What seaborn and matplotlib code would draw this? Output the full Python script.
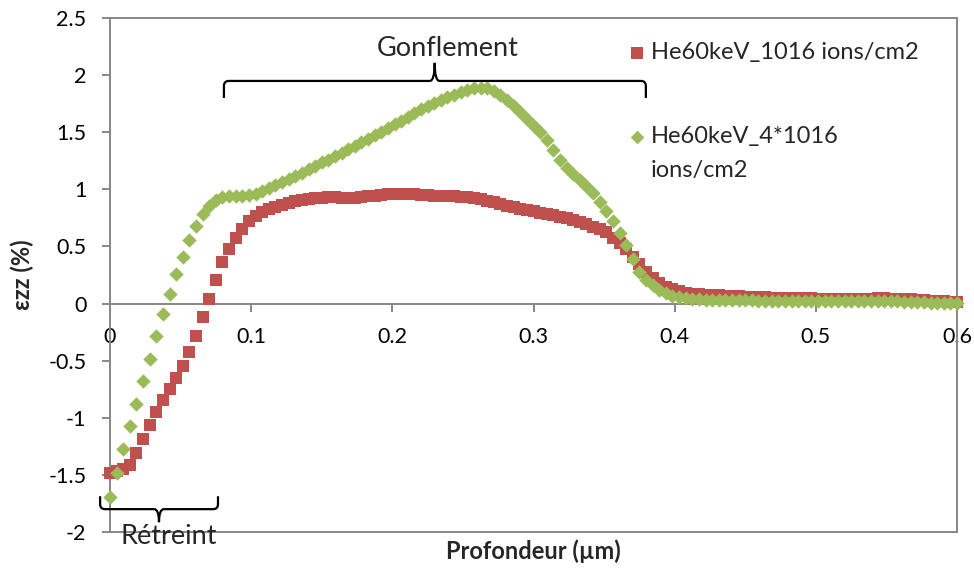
import numpy as np
import pandas as pd
import matplotlib
matplotlib.use("Agg")
import matplotlib.pyplot as plt
from matplotlib.path import Path
from matplotlib.patches import PathPatch
import seaborn as sns

# ---------------- data ----------------
# depth grid (µm): 129 evenly spaced measurement depths from 0 to 0.6
depth_um = np.linspace(0.0, 0.6, 129)

eps_1e16 = [
    -1.48, -1.47, -1.45, -1.41, -1.31, -1.19, -1.06, -0.95, -0.84, -0.745,
    -0.65, -0.55, -0.42, -0.28, -0.12, 0.04, 0.21, 0.36, 0.48, 0.575,
    0.655, 0.725, 0.77, 0.80, 0.825, 0.845, 0.862, 0.88, 0.895, 0.907,
    0.917, 0.924, 0.928, 0.93, 0.93, 0.928, 0.925, 0.925, 0.93, 0.938,
    0.946, 0.953, 0.958, 0.962, 0.962, 0.96, 0.956, 0.952, 0.948, 0.945,
    0.943, 0.942, 0.94, 0.937, 0.932, 0.925, 0.915, 0.902, 0.888, 0.872,
    0.855, 0.842, 0.83, 0.82, 0.808, 0.795, 0.784, 0.772, 0.76, 0.745,
    0.728, 0.712, 0.694, 0.674, 0.652, 0.625, 0.578, 0.53, 0.475, 0.41,
    0.345, 0.28, 0.225, 0.18, 0.148, 0.124, 0.107, 0.096, 0.088, 0.082,
    0.078, 0.074, 0.071, 0.068, 0.065, 0.062, 0.06, 0.058, 0.056, 0.054,
    0.052, 0.05, 0.049, 0.048, 0.047, 0.046, 0.045, 0.044, 0.043, 0.042,
    0.042, 0.041, 0.041, 0.042, 0.043, 0.044, 0.045, 0.045, 0.044, 0.042,
    0.04, 0.037, 0.034, 0.03, 0.026, 0.022, 0.018, 0.014, 0.01,
]

eps_4e16 = [
    -1.69, -1.48, -1.27, -1.07, -0.88, -0.675, -0.485, -0.28, -0.09, 0.085,
    0.255, 0.41, 0.555, 0.68, 0.785, 0.855, 0.905, 0.93, 0.94, 0.94,
    0.94, 0.948, 0.962, 0.985, 1.01, 1.035, 1.06, 1.09, 1.12, 1.145,
    1.175, 1.205, 1.235, 1.26, 1.29, 1.32, 1.35, 1.38, 1.415, 1.445,
    1.475, 1.505, 1.54, 1.57, 1.60, 1.635, 1.67, 1.70, 1.73, 1.755,
    1.78, 1.805, 1.83, 1.85, 1.87, 1.885, 1.89, 1.885, 1.865, 1.83,
    1.78, 1.73, 1.68, 1.62, 1.555, 1.5, 1.43, 1.34, 1.26, 1.19,
    1.135, 1.08, 1.025, 0.965, 0.89, 0.81, 0.72, 0.62, 0.51, 0.39,
    0.28, 0.21, 0.16, 0.12, 0.09, 0.068, 0.056, 0.048, 0.042, 0.038,
    0.035, 0.033, 0.032, 0.031, 0.03, 0.029, 0.028, 0.027, 0.026, 0.026,
    0.025, 0.025, 0.024, 0.024, 0.024, 0.023, 0.023, 0.023, 0.022, 0.022,
    0.022, 0.022, 0.021, 0.021, 0.021, 0.021, 0.02, 0.02, 0.019, 0.018,
    0.017, 0.015, 0.013, 0.011, 0.009, 0.007, 0.005, 0.003, 0.001,
]

series_names = ["He60keV_1016 ions/cm2", "He60keV_4*1016 ions/cm2"]
x_ticks = [0.0, 0.1, 0.2, 0.3, 0.4, 0.5, 0.6]
x_tick_labels = ["0", "0.1", "0.2", "0.3", "0.4", "0.5", "0.6"]
y_ticks = [-2.0, -1.5, -1.0, -0.5, 0.0, 0.5, 1.0, 1.5, 2.0, 2.5]
y_tick_labels = ["-2", "-1.5", "-1", "-0.5", "0", "0.5", "1", "1.5", "2", "2.5"]

# ---------------- style ----------------
RED = "#C0504D"
GREEN = "#9BBB59"
GRAY = "#878787"

sns.set_style("white")
plt.rcParams["font.family"] = ["Lato", "DejaVu Sans"]

df = pd.DataFrame({
    "depth": np.concatenate([depth_um, depth_um]),
    "eps": eps_1e16 + eps_4e16,
    "series": [series_names[0]] * len(eps_1e16) + [series_names[1]] * len(eps_4e16),
})

fig = plt.figure(figsize=(9.74, 5.69), dpi=100)
ax = fig.add_axes([110 / 974, 1 - 532 / 569, (957 - 110) / 974, (532 - 18) / 569])

sns.scatterplot(data=df[df.series == series_names[0]], x="depth", y="eps",
                marker="s", color=RED, s=76, linewidth=0, ax=ax,
                legend=False, zorder=3, clip_on=False)
sns.scatterplot(data=df[df.series == series_names[1]], x="depth", y="eps",
                marker="D", color=GREEN, s=54, linewidth=0, ax=ax,
                legend=False, zorder=4, clip_on=False)

ax.set_xlim(0, 0.6)
ax.set_ylim(-2, 2.5)
ax.set_xticks(x_ticks)
ax.set_xticklabels(x_tick_labels)
ax.set_yticks(y_ticks)
ax.set_yticklabels(y_tick_labels)

for side in ["top", "right", "left", "bottom"]:
    ax.spines[side].set_color(GRAY)
    ax.spines[side].set_linewidth(1.4)
ax.spines["bottom"].set_position(("data", 0))
ax.plot([0, 1], [0, 0], transform=ax.transAxes, color=GRAY, lw=1.4,
        clip_on=False, zorder=2)

ax.tick_params(axis="x", direction="out", length=6, width=1.4, color=GRAY,
               pad=11, labelsize=15.5, labelcolor="black", bottom=True)
ax.tick_params(axis="y", direction="out", length=6, width=1.4, color=GRAY,
               pad=11, labelsize=15.5, labelcolor="black", left=True)

ax.set_xlabel("Profondeur (µm)", fontsize=17, fontweight="bold")
ax.set_ylabel("εzz (%)", fontsize=17, fontweight="bold")
ax.xaxis.set_label_coords(0.4994, -0.037)
ax.xaxis.label.set_va("center")
ax.yaxis.set_label_coords(-0.104, 0.5)
ax.yaxis.label.set_va("center")


# ---------------- braces ----------------
def brace(x0, x1, xm, y_line, y_end, y_tip, rx, ry, tx):
    s = np.sign(y_tip - y_line)
    verts = [(x0, y_end), (x0, y_line - s * ry), (x0, y_line), (x0 + rx, y_line),
             (xm - tx, y_line), (xm, y_line), (xm, y_tip),
             (xm, y_line), (xm + tx, y_line),
             (x1 - rx, y_line), (x1, y_line), (x1, y_line - s * ry), (x1, y_end)]
    codes = [Path.MOVETO, Path.LINETO, Path.CURVE3, Path.CURVE3,
             Path.LINETO, Path.CURVE3, Path.CURVE3, Path.CURVE3, Path.CURVE3,
             Path.LINETO, Path.CURVE3, Path.CURVE3, Path.LINETO]
    ax.add_patch(PathPatch(Path(verts, codes), fill=False, edgecolor="black",
                           lw=1.6, clip_on=False, zorder=5,
                           transform=ax.transData))


brace(0.0807, 0.3796, 0.230, 1.949, 1.80, 2.107, 0.0035, 0.045, 0.0035)
ax.text(0.2394, 2.229, "Gonflement", fontsize=19.5, ha="center", va="center")

brace(-0.007, 0.0765, 0.0347, -1.80, -1.687, -1.914, 0.0035, 0.045, 0.0035)
ax.text(0.0418, -2.04, "Rétreint", fontsize=19.5, ha="center", va="center",
        clip_on=False)

# ---------------- legend (Excel style, wrapped second entry) ----------------
lx_m, lx_t = (637 - 110) / 847, (651 - 110) / 847
ax.scatter([lx_m], [(532 - 53) / 514], marker="s", s=64, color=RED,
           linewidth=0, transform=ax.transAxes, clip_on=False, zorder=6)
ax.text(lx_t, (532 - 53) / 514, series_names[0], transform=ax.transAxes,
        fontsize=17, ha="left", va="center")
ax.scatter([lx_m], [(532 - 137) / 514], marker="D", s=48, color=GREEN,
           linewidth=0, transform=ax.transAxes, clip_on=False, zorder=6)
first, second = series_names[1].rsplit(" ", 1)
ax.text(lx_t, (532 - 137) / 514, first, transform=ax.transAxes,
        fontsize=17, ha="left", va="center")
ax.text(lx_t, (532 - 170) / 514, second, transform=ax.transAxes,
        fontsize=17, ha="left", va="center")

fig.savefig("out.png", dpi=100)
